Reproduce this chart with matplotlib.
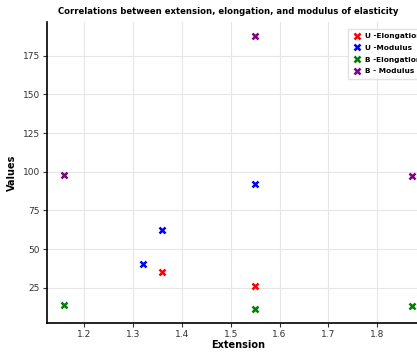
import matplotlib
matplotlib.use("Agg")
import matplotlib.pyplot as plt

# series
u_elong_x = [1.36, 1.55]
u_elong_y = [35, 26]
u_mod_x = [1.32, 1.36, 1.55]
u_mod_y = [40, 62, 92]
b_elong_x = [1.16, 1.55, 1.87]
b_elong_y = [14, 11, 13]
b_mod_x = [1.16, 1.55, 1.87]
b_mod_y = [98, 188, 97]

series = [
    (u_elong_x, u_elong_y, "red", "U -Elongation"),
    (u_mod_x, u_mod_y, "blue", "U -Modulus"),
    (b_elong_x, b_elong_y, "green", "B -Elongation"),
    (b_mod_x, b_mod_y, "purple", "B - Modulus"),
]

W, H = 417, 354
fig = plt.figure(figsize=(W / 100, H / 100), dpi=100)
ax = fig.add_axes([47 / W, (H - 323) / H, (429 - 47) / W, (323 - 22) / H])

for xs, ys, color, label in series:
    ax.plot(xs, ys, linestyle="none", marker="x", color=color,
            markersize=4, markeredgewidth=1.8, label=label)

fig.text(228 / W, 1 - 12 / H,
         "Correlations between extension, elongation, and modulus of elasticity",
         fontsize=6.1, fontweight="bold", ha="center", va="center")
ax.set_xlabel("Extension", fontsize=7, fontweight="bold", labelpad=1)
ax.set_ylabel("Values", fontsize=7, fontweight="bold", labelpad=4)
ax.tick_params(labelsize=6.5, colors="#333333", length=3, pad=2)
ax.grid(True, color="#e6e6e6", linewidth=0.8)
ax.set_axisbelow(True)
for side in ("top", "right"):
    ax.spines[side].set_visible(False)
ax.spines["left"].set_linewidth(1.2)
ax.spines["bottom"].set_linewidth(1.2)

leg = ax.legend(loc="upper left", bbox_to_anchor=((344 - 47) / 382, 0.99),
                prop={"weight": "bold", "size": 5.3}, frameon=True,
                handletextpad=0.5, borderpad=0.6, labelspacing=0.75,
                handlelength=1.2, fancybox=False)
leg.get_frame().set_edgecolor("#dddddd")

fig.savefig("out.png", dpi=100)
plt.close(fig)
